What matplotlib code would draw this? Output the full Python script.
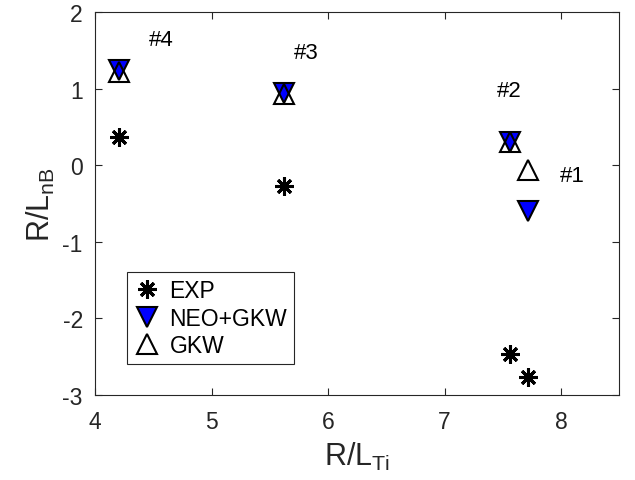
import matplotlib
matplotlib.use("Agg")
import matplotlib.pyplot as plt

plt.rcParams["font.family"] = ["Liberation Sans", "DejaVu Sans"]
plt.rcParams["mathtext.fontset"] = "custom"
plt.rcParams["mathtext.rm"] = "Liberation Sans"
plt.rcParams["axes.unicode_minus"] = False

# ── data ─────────────────────────────────────────────────────────────────────
exp_x = [4.20, 5.62, 7.56, 7.72]
exp_y = [0.37, -0.27, -2.46, -2.76]

neo_x = [4.20, 5.62, 7.56, 7.72]
neo_y = [1.25, 0.95, 0.31, -0.59]

gkw_x = [4.20, 5.62, 7.56, 7.72]
gkw_y = [1.22, 0.93, 0.30, -0.06]

case_labels = ["#4", "#3", "#2", "#1"]
label_x = [4.57, 5.81, 7.56, 8.10]
label_y = [1.65, 1.48, 0.98, -0.13]

xticks = [4, 5, 6, 7, 8]
yticks = [-3, -2, -1, 0, 1, 2]

# ── plot ─────────────────────────────────────────────────────────────────────
fig = plt.figure(figsize=(6.35, 4.81), dpi=100)
ax = fig.add_axes([0.150, 0.177, 0.825, 0.795])

ax.plot(exp_x, exp_y, linestyle="none", marker=(8, 2, 0), markersize=13,
        markeredgewidth=2.2, color="black", label="EXP")
ax.plot(neo_x, neo_y, linestyle="none", marker="v", markersize=14.5,
        markerfacecolor="#0000ff", markeredgecolor="black",
        markeredgewidth=1.5, label="NEO+GKW")
ax.plot(gkw_x, gkw_y, linestyle="none", marker="^", markersize=14.5,
        markerfacecolor="none", markeredgecolor="black",
        markeredgewidth=1.5, label="GKW")

for lx, ly, txt in zip(label_x, label_y, case_labels):
    ax.text(lx, ly, txt, fontsize=16, ha="center", va="center")

ax.set_xlim(4, 8.5)
ax.set_ylim(-3, 2)
ax.set_xticks(xticks)
ax.set_yticks(yticks)
ax.tick_params(direction="in", length=5, width=0.8, labelsize=16.5,
               top=True, right=True, colors="#262626", labelcolor="#262626")
ax.tick_params(axis="x", pad=11)
ax.tick_params(axis="y", pad=9)
for s in ax.spines.values():
    s.set_color("#262626")
    s.set_linewidth(0.8)

ax.set_xlabel(r"R/L$_{\mathrm{Ti}}$", fontsize=22, labelpad=5, color="#262626")
ax.set_ylabel(r"R/L$_{\mathrm{nB}}$", fontsize=22, labelpad=4, color="#262626")

leg = ax.legend(loc="upper left", bbox_to_anchor=(0.061, 0.321),
                fontsize=16.5, frameon=True, fancybox=False, framealpha=1,
                edgecolor="#262626", handlelength=1.1, handletextpad=0.45,
                borderpad=0.3, labelspacing=0.2, borderaxespad=0)
leg.get_frame().set_linewidth(0.8)

fig.savefig("out.png", dpi=100)
